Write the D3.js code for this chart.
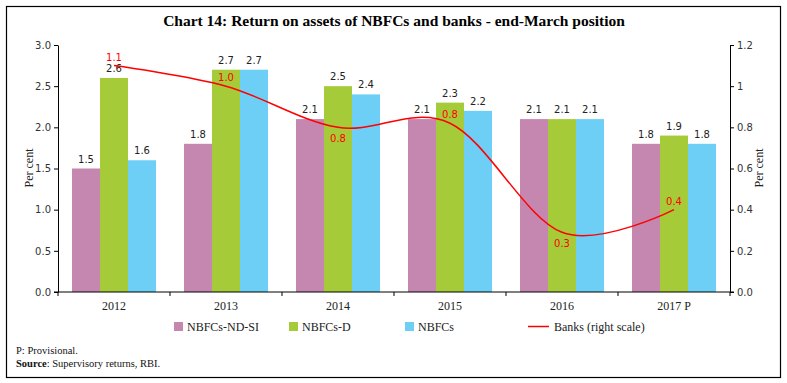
<!DOCTYPE html>
<html><head><meta charset="utf-8">
<script src="https://cdn.jsdelivr.net/npm/d3@7"></script>
<style>
body{margin:0;background:#fff;}
svg{display:block;}
</style></head>
<body>
<svg id="c" width="787" height="383"></svg>
<script>
const categories = ["2012","2013","2014","2015","2016","2017 P"];
const seriesNames = ["NBFCs-ND-SI","NBFCs-D","NBFCs"];
const ndsi = [1.5,1.8,2.1,2.1,2.1,1.8];
const nbfcD = [2.6,2.7,2.5,2.3,2.1,1.9];
const nbfcs = [1.6,2.7,2.4,2.2,2.1,1.8];
const banks = [1.1,1.0,0.8,0.82,0.29,0.4];
const leftTicks = [0,0.5,1.0,1.5,2.0,2.5,3.0];
const rightTicks = [0,0.2,0.4,0.6,0.8,1.0,1.2];
const rightTickLabels = ["0.0","0.2","0.4","0.6","0.8","1","1.2"];
const bankLabelPos = ["above","above","below","above","below","above"];

const colors = ["#C586AF","#A6CB39","#6DCFF6"];
const svg = d3.select("#c");
const L = 58, R = 730, T = 45, B = 292;
const sansF = "'DejaVu Sans', Verdana, sans-serif";
const serifF = "'Liberation Serif', 'DejaVu Serif', serif";

svg.append("rect").attr("x",6.5).attr("y",6.5).attr("width",774).attr("height",371)
  .attr("fill","none").attr("stroke","#000").attr("stroke-width",1.2);

svg.append("text").attr("x",394).attr("y",26).attr("text-anchor","middle")
  .attr("font-family",serifF).attr("font-weight","bold").attr("font-size",15.5)
  .text("Chart 14: Return on assets of NBFCs and banks - end-March position");

const x0 = d3.scaleBand().domain(categories).range([L,R]).paddingInner(0.25).paddingOuter(0.125);
const x1 = d3.scaleBand().domain(seriesNames).range([0,x0.bandwidth()]);
const yL = d3.scaleLinear().domain([0,3]).range([B,T]);
const yR = d3.scaleLinear().domain([0,1.2]).range([B,T]);

const data = [ndsi,nbfcD,nbfcs];
const g = svg.append("g");
data.forEach((arr,si)=>{
  g.selectAll(null).data(arr).enter().append("rect")
    .attr("x",(d,i)=>x0(categories[i])+x1(seriesNames[si]))
    .attr("y",d=>yL(d)).attr("width",x1.bandwidth()).attr("height",d=>B-yL(d))
    .attr("fill",colors[si]);
  g.selectAll(null).data(arr).enter().append("text")
    .attr("x",(d,i)=>x0(categories[i])+x1(seriesNames[si])+x1.bandwidth()/2)
    .attr("y",d=>yL(d)-6).attr("text-anchor","middle")
    .attr("font-family",sansF).attr("font-size",10).attr("fill","#222")
    .text(d=>d3.format(".1f")(d));
});

// axes
const axL = d3.axisLeft(yL).tickValues(leftTicks).tickFormat(d3.format(".1f")).tickSize(4).tickSizeOuter(0);
const gl = svg.append("g").attr("transform",`translate(${L},0)`).call(axL);
const axR = d3.axisRight(yR).tickValues(rightTicks).tickFormat((d,i)=>rightTickLabels[i]).tickSize(4).tickSizeOuter(0);
const gr = svg.append("g").attr("transform",`translate(${R},0)`).call(axR);
[gl,gr].forEach(a=>{
  a.selectAll("text").attr("font-family",sansF).attr("font-size",10).attr("fill","#333");
  a.select(".domain").attr("stroke","#000");
});

const gx = svg.append("g").attr("transform",`translate(0,${B})`);
gx.append("line").attr("x1",L-4).attr("x2",R+4).attr("y1",0).attr("y2",0).attr("stroke","#000");
const bounds = d3.range(categories.length+1).map(i=>L+i*(R-L)/categories.length);
gx.selectAll(null).data(bounds).enter().append("line")
  .attr("x1",d=>d).attr("x2",d=>d).attr("y1",0).attr("y2",4).attr("stroke","#000");
gx.selectAll(null).data(categories).enter().append("text")
  .attr("x",d=>x0(d)+x0.bandwidth()/2).attr("y",18).attr("text-anchor","middle")
  .attr("font-family",serifF).attr("font-size",12).attr("fill","#222").text(d=>d);

svg.append("text").attr("transform",`translate(33,168) rotate(-90)`).attr("text-anchor","middle")
  .attr("font-family",serifF).attr("font-size",12).attr("fill","#222").text("Per cent");
svg.append("text").attr("transform",`translate(763,168) rotate(-90)`).attr("text-anchor","middle")
  .attr("font-family",serifF).attr("font-size",12).attr("fill","#222").text("Per cent");

// banks line
const cx = (d,i)=>x0(categories[i])+x0.bandwidth()/2;
const line = d3.line().x(cx).y(d=>yR(d)).curve(d3.curveCardinal.tension(0));
svg.append("path").datum(banks).attr("d",line).attr("fill","none").attr("stroke","#FF0000").attr("stroke-width",1.5);
svg.selectAll(null).data(banks).enter().append("text")
  .attr("x",(d,i)=>cx(d,i)).attr("y",(d,i)=>bankLabelPos[i]==="above"?yR(d)-5:yR(d)+15)
  .attr("text-anchor","middle").attr("font-family",sansF).attr("font-size",10).attr("fill","#FF0000")
  .text(d=>d3.format(".1f")(d));

// legend
const legend = [
  {name:"NBFCs-ND-SI",type:"rect",color:colors[0],x:174},
  {name:"NBFCs-D",type:"rect",color:colors[1],x:289},
  {name:"NBFCs",type:"rect",color:colors[2],x:405},
  {name:"Banks (right scale)",type:"line",color:"#FF0000",x:528}
];
const lg = svg.append("g");
legend.forEach(it=>{
  if(it.type==="rect"){
    lg.append("rect").attr("x",it.x).attr("y",322).attr("width",9).attr("height",9).attr("fill",it.color);
    lg.append("text").attr("x",it.x+13).attr("y",331).attr("font-family",serifF).attr("font-size",12).attr("fill","#222").text(it.name);
  } else {
    lg.append("line").attr("x1",it.x).attr("x2",it.x+21).attr("y1",326.5).attr("y2",326.5).attr("stroke",it.color).attr("stroke-width",1.5);
    lg.append("text").attr("x",it.x+26).attr("y",331).attr("font-family",serifF).attr("font-size",12).attr("fill","#222").text(it.name);
  }
});

svg.append("text").attr("x",16).attr("y",354).attr("font-family",serifF).attr("font-size",10.5).attr("fill","#111").text("P: Provisional.");
const src = svg.append("text").attr("x",16).attr("y",367).attr("font-family",serifF).attr("font-size",10.5).attr("fill","#111");
src.append("tspan").attr("font-weight","bold").text("Source");
src.append("tspan").text(": Supervisory returns, RBI.");
</script>
</body></html>
